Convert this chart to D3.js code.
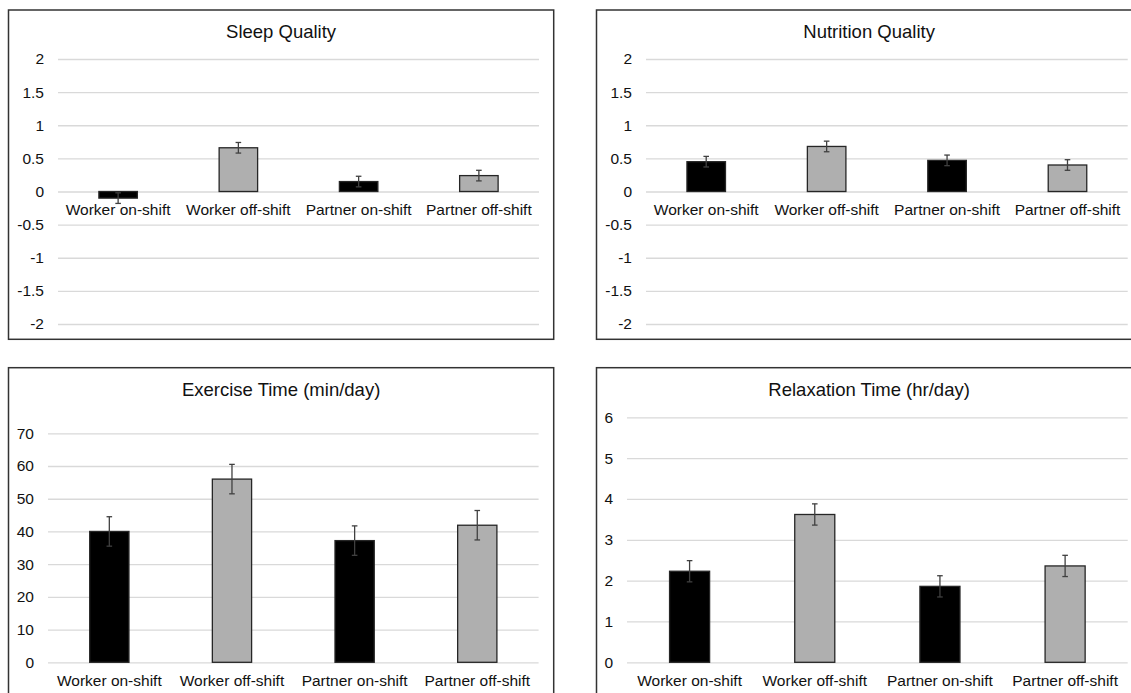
<!DOCTYPE html>
<html>
<head>
<meta charset="utf-8">
<script src="https://cdn.jsdelivr.net/npm/d3@7"></script>
<style>
    body { margin: 0; background: #fff; }
    svg { display: block; font-family: "Liberation Sans", Arial, sans-serif; }
</style>
</head>
<body>
<div id="chart"></div>
<script>
const categories = ["Worker on-shift", "Worker off-shift", "Partner on-shift", "Partner off-shift"];
const onShift = [true, false, true, false];

const sleepMeans = [-0.1, 0.66, 0.15, 0.24];
const sleepErrors = [0.08, 0.08, 0.08, 0.08];

const nutritionMeans = [0.45, 0.68, 0.47, 0.40];
const nutritionErrors = [0.08, 0.08, 0.08, 0.08];

const exerciseMeans = [40, 56, 37.2, 41.9];
const exerciseErrors = [4.5, 4.5, 4.5, 4.5];

const relaxMeans = [2.23, 3.62, 1.86, 2.36];
const relaxErrors = [0.26, 0.26, 0.26, 0.26];

const qualityTicks = [-2, -1.5, -1, -0.5, 0, 0.5, 1, 1.5, 2];
const exerciseTicks = [0, 10, 20, 30, 40, 50, 60, 70];
const relaxTicks = [0, 1, 2, 3, 4, 5, 6];

const width = 1131;
const height = 693;

// frame = panel border box, plot = gridline area
const panels = [
    {
        title: "Sleep Quality", means: sleepMeans, errors: sleepErrors, ticks: qualityTicks,
        frame: {x: 8.5, y: 10, w: 545.2, h: 329.3},
        plot: {left: 58, right: 539, top: 59, bottom: 324},
    },
    {
        title: "Nutrition Quality", means: nutritionMeans, errors: nutritionErrors, ticks: qualityTicks,
        frame: {x: 596.5, y: 10, w: 545.2, h: 329.3},
        plot: {left: 646, right: 1127.7, top: 59, bottom: 324},
    },
    {
        title: "Exercise Time (min/day)", means: exerciseMeans, errors: exerciseErrors, ticks: exerciseTicks,
        frame: {x: 8.5, y: 367.7, w: 545.2, h: 340},
        plot: {left: 48, right: 538.6, top: 433.3, bottom: 662.3},
    },
    {
        title: "Relaxation Time (hr/day)", means: relaxMeans, errors: relaxErrors, ticks: relaxTicks,
        frame: {x: 596.5, y: 367.7, w: 545.2, h: 340},
        plot: {left: 627, right: 1127.7, top: 417.3, bottom: 662.3},
    },
];

const svg = d3.select("#chart")
    .append("svg")
    .attr("width", width)
    .attr("height", height);

// plain hyphen for negatives, like the original
const fmt = (d) => String(d);

function drawPanel(p) {
    const g = svg.append("g");

    g.append("rect")
        .attr("x", p.frame.x)
        .attr("y", p.frame.y)
        .attr("width", p.frame.w)
        .attr("height", p.frame.h)
        .attr("fill", "none")
        .attr("stroke", "#333")
        .attr("stroke-width", 1.5);

    g.append("text")
        .attr("x", p.frame.x + p.frame.w / 2)
        .attr("y", p.frame.y + 22)
        .attr("dy", "0.35em")
        .attr("text-anchor", "middle")
        .attr("font-size", 18.5)
        .attr("fill", "#111")
        .text(p.title);

    const x = d3.scaleBand()
        .domain(categories)
        .range([p.plot.left, p.plot.right])
        .paddingInner(0.68)
        .paddingOuter(0.34);

    const y = d3.scaleLinear()
        .domain([d3.min(p.ticks), d3.max(p.ticks)])
        .range([p.plot.bottom, p.plot.top]);

    // gridlines + tick labels
    const yAxis = d3.axisLeft(y)
        .tickValues(p.ticks)
        .tickSize(-(p.plot.right - p.plot.left))
        .tickPadding(14)
        .tickFormat(fmt);

    const axis = g.append("g")
        .attr("transform", `translate(${p.plot.left},0)`)
        .call(yAxis)
        .attr("font-size", 15.5)
        .attr("font-family", "Liberation Sans, Arial, sans-serif");

    axis.select(".domain").remove();
    axis.selectAll(".tick line")
        .attr("stroke", "#d9d9d9")
        .attr("stroke-width", 1.3);
    axis.selectAll(".tick text")
        .attr("fill", "#111")
        .attr("x", -14);

    const rows = categories.map((c, i) => ({
        cat: c, mean: p.means[i], err: p.errors[i], on: onShift[i],
    }));

    g.append("g")
        .selectAll("rect")
        .data(rows)
        .enter()
        .append("rect")
        .attr("x", (d) => x(d.cat))
        .attr("width", x.bandwidth())
        .attr("y", (d) => y(Math.max(0, d.mean)))
        .attr("height", (d) => Math.abs(y(d.mean) - y(0)))
        .attr("fill", (d) => d.on ? "#000000" : "#afafaf")
        .attr("stroke", "#262626")
        .attr("stroke-width", 1.3);

    // error bars
    const eb = g.append("g")
        .selectAll("g")
        .data(rows)
        .enter()
        .append("g")
        .attr("stroke", "#404040")
        .attr("stroke-width", 1.3);

    const cx = (d) => x(d.cat) + x.bandwidth() / 2;

    eb.append("line")
        .attr("x1", cx)
        .attr("x2", cx)
        .attr("y1", (d) => y(d.mean + d.err))
        .attr("y2", (d) => y(d.mean - d.err));
    eb.append("line")
        .attr("x1", (d) => cx(d) - 2.8)
        .attr("x2", (d) => cx(d) + 2.8)
        .attr("y1", (d) => y(d.mean + d.err))
        .attr("y2", (d) => y(d.mean + d.err));
    eb.append("line")
        .attr("x1", (d) => cx(d) - 2.8)
        .attr("x2", (d) => cx(d) + 2.8)
        .attr("y1", (d) => y(d.mean - d.err))
        .attr("y2", (d) => y(d.mean - d.err));

    // category labels sit just under the zero line
    g.append("g")
        .selectAll("text")
        .data(categories)
        .enter()
        .append("text")
        .attr("x", (d) => x(d) + x.bandwidth() / 2)
        .attr("y", y(0) + 18.5)
        .attr("dy", "0.35em")
        .attr("text-anchor", "middle")
        .attr("font-size", 15.5)
        .attr("fill", "#111")
        .text((d) => d);
}

panels.forEach(drawPanel);
</script>
</body>
</html>
